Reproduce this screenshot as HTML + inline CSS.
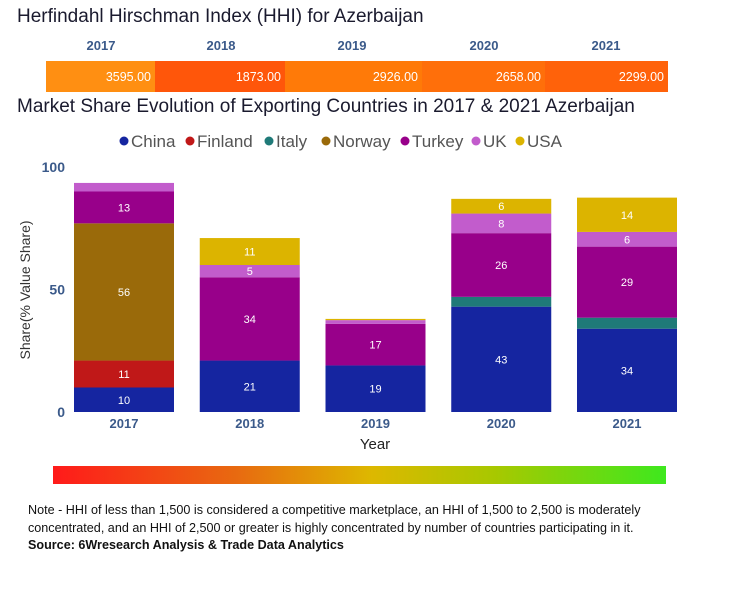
<!DOCTYPE html>
<html><head><meta charset="utf-8">
<style>
body{margin:0;background:#fff;font-family:"Liberation Sans",sans-serif;}
#root{position:relative;width:729px;height:600px;overflow:hidden;}
.t{position:absolute;white-space:nowrap;}
</style></head>
<body>
<div id="root">
<div class="t" style="left:17px;top:6px;font-size:19px;color:#1a1a2e;">Herfindahl Hirschman Index (HHI) for Azerbaijan</div>
<svg id="hhi" width="729" height="100" style="position:absolute;left:0;top:0"></svg>
<div class="t" style="left:17px;top:96px;font-size:19px;color:#1a1a2e;">Market Share Evolution of Exporting Countries in 2017 &amp; 2021 Azerbaijan</div>
<svg id="chart" width="729" height="460" style="position:absolute;left:0;top:0"></svg>
<div style="position:absolute;left:53px;top:466px;width:613px;height:18px;background:linear-gradient(to right,#ff1a1a,#e86a10 30%,#ddb800 52%,#a8c800 72%,#3ee81e);"></div>
<div style="position:absolute;left:28px;top:502px;width:690px;font-size:12.6px;line-height:17.5px;color:#111;">Note - HHI of less than 1,500 is considered a competitive marketplace, an HHI of 1,500 to 2,500 is moderately concentrated, and an HHI of 2,500 or greater is highly concentrated by number of countries participating in it.<br><b>Source: 6Wresearch Analysis &amp; Trade Data Analytics</b></div>
</div>
<script>
const NS="http://www.w3.org/2000/svg";
const years=["2017","2018","2019","2020","2021"];
const hhiValues=[3595,1873,2926,2658,2299];
const hhiColors=["#ff8f12","#ff560a","#ff7a08","#ff6f0a","#ff620a"];
const countries=["China","Finland","Italy","Norway","Turkey","UK","USA"];
const colors=["#1525a0","#c01818","#1f7a78","#9a6a0a","#98008a","#c25ccc","#dcb400"];
const china=[10,21,19,43,34];
const finland=[11,0,0,0,0];
const italy=[0,0,0,4,4.5];
const norway=[56,0,0,0,0];
const turkey=[13,34,17,26,29];
const uk=[3.5,5,1.5,8,6];
const usa=[0,11,0.5,6,14];
const series=[china,finland,italy,norway,turkey,uk,usa];
const yTicks=[0,50,100];

function mk(tag,attrs,parent,text){const e=document.createElementNS(NS,tag);for(const k in attrs)e.setAttribute(k,attrs[k]);if(text!==undefined)e.textContent=text;parent.appendChild(e);return e;}

const hhi=document.getElementById('hhi');
const segEdges=[46,155,285,422,545,668];
years.forEach((y,i)=>{
  const r=mk('rect',{x:segEdges[i],y:61,width:segEdges[i+1]-segEdges[i],height:31,fill:hhiColors[i]},hhi);
  
  
  const v=mk('text',{x:segEdges[i+1]-4,y:81,'text-anchor':'end','font-size':12.5,fill:'#fff'},hhi,hhiValues[i].toFixed(2));
  
  
  const cx=[101,221,352,484,606][i];
  const l=mk('text',{x:cx,y:50,'text-anchor':'middle','font-size':13,'font-weight':'bold',fill:'#3b5a8a'},hhi,y);
  
  
});

const svg=document.getElementById('chart');
const y0=412,pxPer=2.45;
const yScale=v=>y0-v*pxPer;
const bandStart=74,bandStep=125.75,barW=100;
const xScale=i=>bandStart+i*bandStep;

const leg=mk('g',{},svg);


let lx=119;
const legW=[66,79,57,79,71,44,50];
countries.forEach((c,i)=>{
  const g=mk('g',{},leg);
  
  
  mk('circle',{cx:lx+5,cy:141,r:4.5,fill:colors[i]},g);
  mk('text',{x:lx+12,y:147,'font-size':17,fill:'#555'},g,c);
  lx+=legW[i];
});

yTicks.forEach(t=>{
  const e=mk('text',{x:65,y:yScale(t)+5,'text-anchor':'end','font-size':14,'font-weight':'bold',fill:'#3b5a8a'},svg,String(t));
  
  
});
const yt=mk('text',{x:0,y:0,transform:'translate(30,290) rotate(-90)','text-anchor':'middle','font-size':14,fill:'#333'},svg,'Share(% Value Share)');


const xt=mk('text',{x:375,y:449,'text-anchor':'middle','font-size':15,fill:'#222'},svg,'Year');



years.forEach((yr,i)=>{
  let cum=0;
  const x=xScale(i);
  series.forEach((s,k)=>{
    const v=s[i];
    if(v<=0)return;
    const top=yScale(cum+v),bot=yScale(cum);
    const r=mk('rect',{x:x,y:top,width:barW,height:bot-top,fill:colors[k]},svg);
    
    
    if(v>=4.8){
      const t=mk('text',{x:x+barW/2,y:(top+bot)/2+4,'text-anchor':'middle','font-size':11,fill:'#fff'},svg,String(Math.round(v)));
      
      
    }
    cum+=v;
  });
  const xl=mk('text',{x:x+barW/2,y:428,'text-anchor':'middle','font-size':13,'font-weight':'bold',fill:'#3b5a8a'},svg,yr);
  
  
});
</script>
</body></html>
